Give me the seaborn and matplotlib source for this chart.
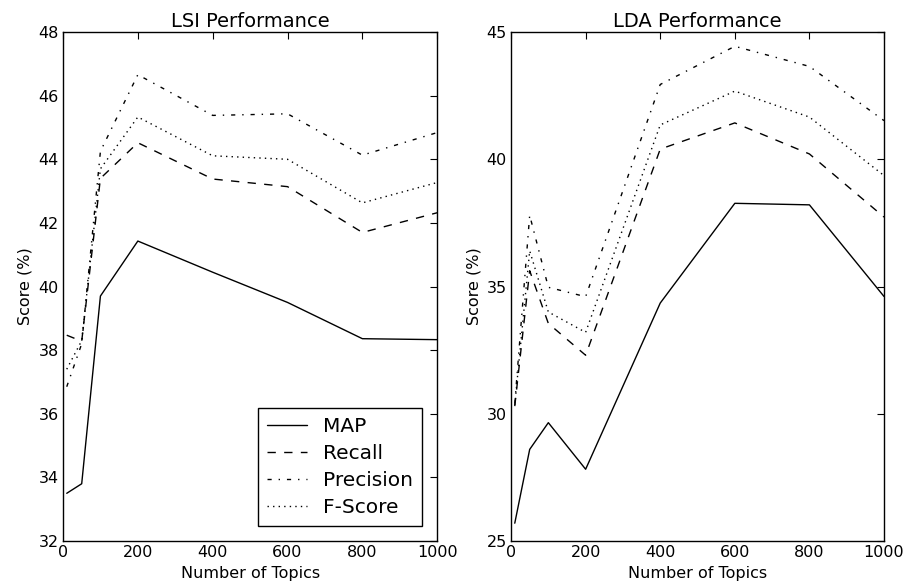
import matplotlib
matplotlib.use("Agg")
import matplotlib.pyplot as plt
import seaborn as sns
import pandas as pd

topics = [10, 50, 100, 200, 400, 600, 800, 1000]
metrics = ["MAP", "Recall", "Precision", "F-Score"]

lsi_map = [33.5, 33.8, 39.7, 41.43, 40.45, 39.5, 38.36, 38.33]
lsi_recall = [38.47, 38.28, 43.4, 44.52, 43.38, 43.14, 41.70, 42.32]
lsi_precision = [36.85, 38.2, 44.25, 46.66, 45.38, 45.43, 44.13, 44.84]
lsi_fscore = [37.4, 38.3, 43.7, 45.33, 44.11, 44.0, 42.63, 43.27]

lda_map = [25.7, 28.6, 29.65, 27.82, 34.35, 38.27, 38.21, 34.61]
lda_recall = [30.3, 35.62, 33.55, 32.3, 40.4, 41.43, 40.21, 37.73]
lda_precision = [30.4, 37.8, 34.97, 34.6, 42.94, 44.44, 43.65, 41.52]
lda_fscore = [30.35, 36.4, 34.0, 33.2, 41.35, 42.68, 41.66, 39.36]


def make_df(series):
    rows = []
    for name, vals in zip(metrics, series):
        for t, v in zip(topics, vals):
            rows.append({"Number of Topics": t, "Score (%)": v, "metric": name})
    return pd.DataFrame(rows)


lsi_df = make_df([lsi_map, lsi_recall, lsi_precision, lsi_fscore])
lda_df = make_df([lda_map, lda_recall, lda_precision, lda_fscore])

sns.set_style("white")
plt.rcParams["font.family"] = ["DejaVu Sans"]
plt.rcParams["text.color"] = "black"
plt.rcParams["axes.labelcolor"] = "black"
plt.rcParams["xtick.color"] = "black"
plt.rcParams["ytick.color"] = "black"
plt.rcParams["xtick.direction"] = "in"
plt.rcParams["ytick.direction"] = "in"

dashes = {
    "MAP": "",
    "Recall": (6, 6),
    "Precision": (3, 5, 1, 5),
    "F-Score": (1, 3),
}

fig = plt.figure(figsize=(9.09, 5.85), dpi=100, facecolor="white")
ax1 = fig.add_axes([0.0693, 0.0752, 0.4117, 0.870])
ax2 = fig.add_axes([0.5622, 0.0752, 0.4103, 0.870])

for ax, df, title, ylim, yticks in [
    (ax1, lsi_df, "LSI Performance", (32, 48), list(range(32, 49, 2))),
    (ax2, lda_df, "LDA Performance", (25, 45), list(range(25, 46, 5))),
]:
    sns.lineplot(data=df, x="Number of Topics", y="Score (%)", style="metric",
                 style_order=metrics, dashes=dashes, color="black",
                 linewidth=1.0, ax=ax, legend=(ax is ax1))
    ax.set_xlim(0, 1000)
    ax.set_ylim(*ylim)
    ax.set_yticks(yticks)
    ax.set_xticks([0, 200, 400, 600, 800, 1000])
    ax.set_title(title, fontsize=14, pad=4, color="black")
    ax.set_xlabel("Number of Topics", fontsize=11.5, labelpad=4, color="black")
    ax.set_ylabel("Score (%)", fontsize=11.5, labelpad=4, color="black")
    ax.tick_params(axis="both", which="both", direction="in", length=5,
                   width=0.8, labelsize=11.5, top=True, right=True,
                   color="black", labelcolor="black", pad=3)
    for s in ax.spines.values():
        s.set_visible(True)
        s.set_color("black")
        s.set_linewidth(1.0)
    ax.set_facecolor("white")

leg = ax1.legend(loc="lower right", fontsize=14.5, frameon=True, fancybox=False,
                 edgecolor="black", framealpha=1, borderpad=0.45,
                 handlelength=2.0, labelspacing=0.4, borderaxespad=0.75)
leg.get_frame().set_linewidth(1.0)
for line in leg.get_lines():
    line.set_linewidth(1.0)
for t in leg.get_texts():
    t.set_color("black")

fig.savefig("out.png", dpi=100, facecolor="white")
